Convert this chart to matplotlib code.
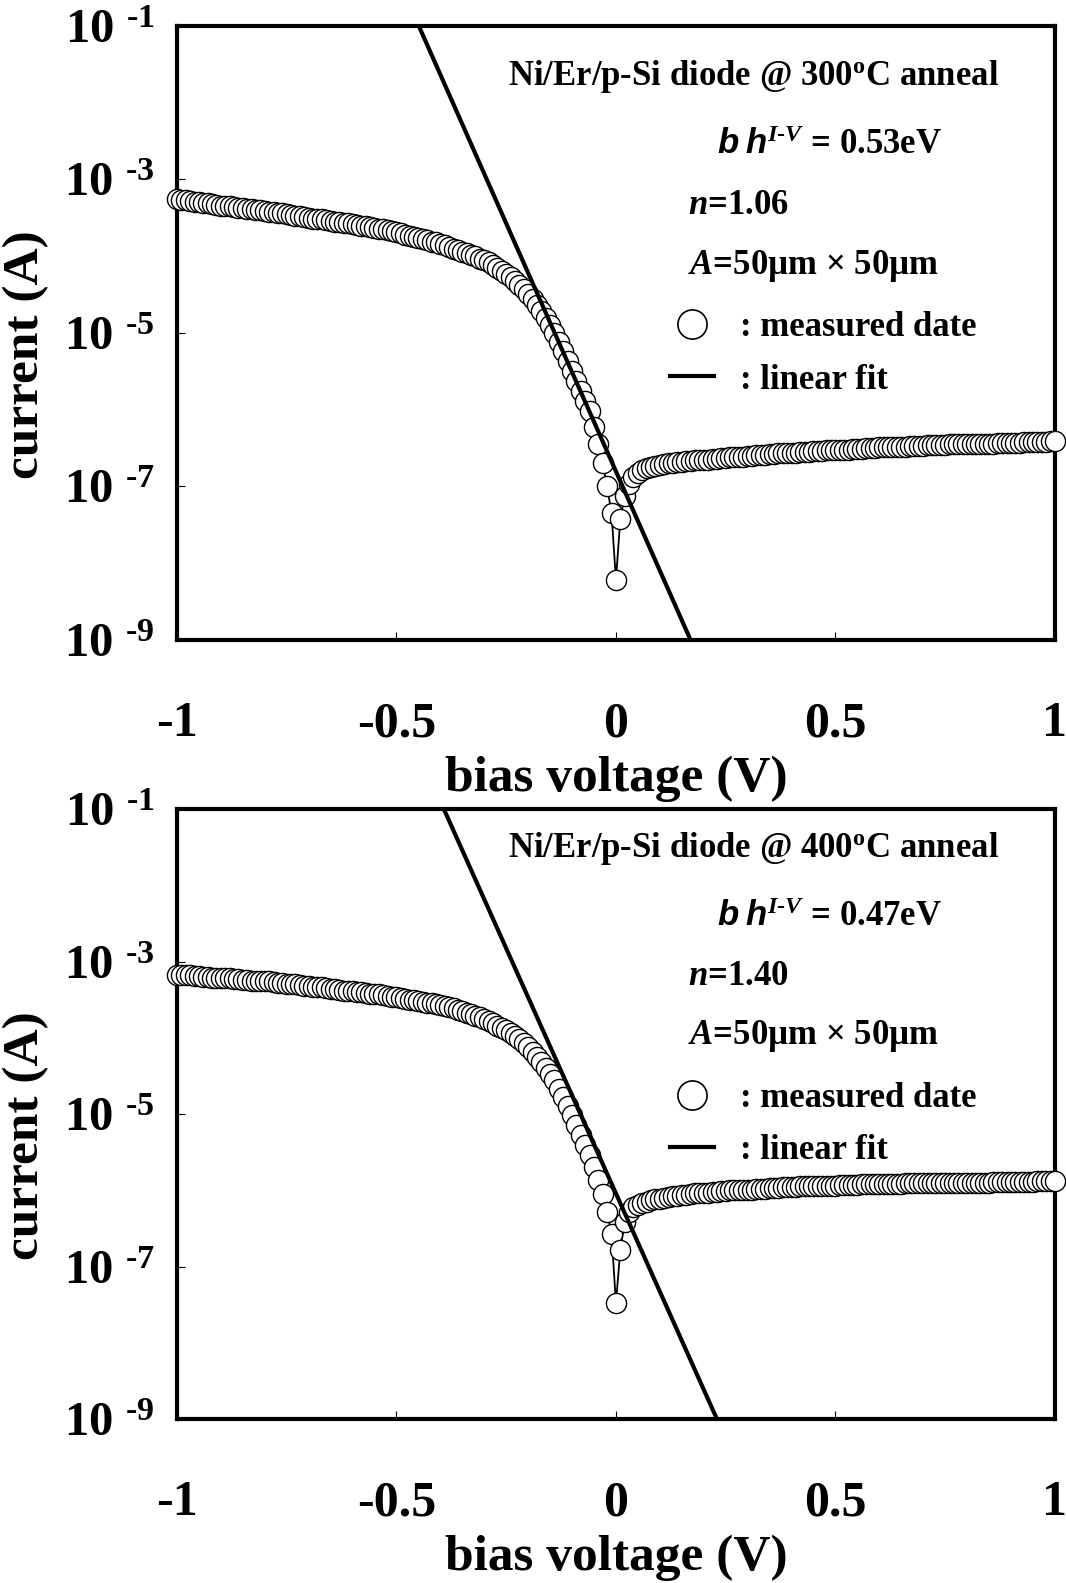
import numpy as np
import matplotlib.pyplot as plt
import matplotlib.ticker as ticker
from matplotlib.lines import Line2D

plt.rcParams['font.family'] = ['Liberation Serif', 'DejaVu Serif']
plt.rcParams['font.weight'] = 'bold'
plt.rcParams['axes.labelweight'] = 'bold'
plt.rcParams['mathtext.fontset'] = 'custom'
plt.rcParams['mathtext.rm'] = 'Liberation Serif:bold'
plt.rcParams['mathtext.it'] = 'Liberation Serif:italic:bold'
plt.rcParams['mathtext.bf'] = 'Liberation Serif:bold'
plt.rcParams['mathtext.sf'] = 'Liberation Sans:italic'

# bias sweep (V)
voltage = [
    -1.00, -0.99, -0.98, -0.97, -0.96, -0.95, -0.94, -0.93, -0.92, -0.91,
    -0.90, -0.89, -0.88, -0.87, -0.86, -0.85, -0.84, -0.83, -0.82, -0.81,
    -0.80, -0.79, -0.78, -0.77, -0.76, -0.75, -0.74, -0.73, -0.72, -0.71,
    -0.70, -0.69, -0.68, -0.67, -0.66, -0.65, -0.64, -0.63, -0.62, -0.61,
    -0.60, -0.59, -0.58, -0.57, -0.56, -0.55, -0.54, -0.53, -0.52, -0.51,
    -0.50, -0.49, -0.48, -0.47, -0.46, -0.45, -0.44, -0.43, -0.42, -0.41,
    -0.40, -0.39, -0.38, -0.37, -0.36, -0.35, -0.34, -0.33, -0.32, -0.31,
    -0.30, -0.29, -0.28, -0.27, -0.26, -0.25, -0.24, -0.23, -0.22, -0.21,
    -0.20, -0.19, -0.18, -0.17, -0.16, -0.15, -0.14, -0.13, -0.12, -0.11,
    -0.10, -0.09, -0.08, -0.07, -0.06, -0.05, -0.04, -0.03, -0.02, -0.01,
    0.00, 0.01, 0.02, 0.03, 0.04, 0.05, 0.06, 0.07, 0.08, 0.09,
    0.10, 0.11, 0.12, 0.13, 0.14, 0.15, 0.16, 0.17, 0.18, 0.19,
    0.20, 0.21, 0.22, 0.23, 0.24, 0.25, 0.26, 0.27, 0.28, 0.29,
    0.30, 0.31, 0.32, 0.33, 0.34, 0.35, 0.36, 0.37, 0.38, 0.39,
    0.40, 0.41, 0.42, 0.43, 0.44, 0.45, 0.46, 0.47, 0.48, 0.49,
    0.50, 0.51, 0.52, 0.53, 0.54, 0.55, 0.56, 0.57, 0.58, 0.59,
    0.60, 0.61, 0.62, 0.63, 0.64, 0.65, 0.66, 0.67, 0.68, 0.69,
    0.70, 0.71, 0.72, 0.73, 0.74, 0.75, 0.76, 0.77, 0.78, 0.79,
    0.80, 0.81, 0.82, 0.83, 0.84, 0.85, 0.86, 0.87, 0.88, 0.89,
    0.90, 0.91, 0.92, 0.93, 0.94, 0.95, 0.96, 0.97, 0.98, 0.99,
    1.00]

# log10 of measured current (A)
log_i_300 = [
    -3.26, -3.27, -3.27, -3.28, -3.29, -3.30, -3.31, -3.31, -3.32, -3.33,
    -3.34, -3.34, -3.35, -3.36, -3.37, -3.37, -3.38, -3.39, -3.40, -3.40,
    -3.41, -3.42, -3.43, -3.44, -3.44, -3.45, -3.46, -3.47, -3.48, -3.49,
    -3.50, -3.51, -3.51, -3.52, -3.53, -3.54, -3.55, -3.56, -3.57, -3.57,
    -3.58, -3.59, -3.60, -3.61, -3.62, -3.63, -3.64, -3.65, -3.66, -3.67,
    -3.69, -3.70, -3.72, -3.73, -3.75, -3.76, -3.77, -3.79, -3.81, -3.82,
    -3.84, -3.86, -3.88, -3.90, -3.92, -3.94, -3.96, -3.98, -4.00, -4.03,
    -4.05, -4.08, -4.12, -4.15, -4.19, -4.23, -4.27, -4.32, -4.37, -4.43,
    -4.49, -4.56, -4.64, -4.72, -4.81, -4.90, -5.00, -5.12, -5.24, -5.37,
    -5.50, -5.63, -5.76, -5.89, -6.02, -6.22, -6.45, -6.70, -7.00, -7.35,
    -8.22, -7.42, -7.12, -6.97, -6.88, -6.83, -6.79, -6.76, -6.74, -6.73,
    -6.72, -6.71, -6.70, -6.69, -6.68, -6.68, -6.67, -6.67, -6.66, -6.66,
    -6.65, -6.65, -6.64, -6.64, -6.63, -6.63, -6.62, -6.62, -6.61, -6.61,
    -6.60, -6.60, -6.59, -6.59, -6.59, -6.58, -6.58, -6.57, -6.57, -6.57,
    -6.56, -6.56, -6.55, -6.55, -6.55, -6.54, -6.54, -6.54, -6.53, -6.53,
    -6.53, -6.52, -6.52, -6.52, -6.51, -6.51, -6.51, -6.50, -6.50, -6.50,
    -6.49, -6.49, -6.49, -6.49, -6.48, -6.48, -6.48, -6.47, -6.47, -6.47,
    -6.47, -6.46, -6.46, -6.46, -6.46, -6.46, -6.45, -6.45, -6.45, -6.45,
    -6.45, -6.44, -6.44, -6.44, -6.44, -6.44, -6.44, -6.43, -6.43, -6.43,
    -6.43, -6.43, -6.43, -6.42, -6.42, -6.42, -6.42, -6.42, -6.42, -6.41,
    -6.41]

log_i_400 = [
    -3.17, -3.18, -3.18, -3.18, -3.19, -3.19, -3.20, -3.20, -3.21, -3.21,
    -3.22, -3.22, -3.22, -3.23, -3.23, -3.24, -3.24, -3.25, -3.25, -3.26,
    -3.26, -3.26, -3.27, -3.28, -3.28, -3.29, -3.30, -3.30, -3.31, -3.32,
    -3.32, -3.33, -3.34, -3.34, -3.35, -3.36, -3.36, -3.37, -3.38, -3.38,
    -3.39, -3.40, -3.40, -3.41, -3.42, -3.43, -3.43, -3.44, -3.45, -3.46,
    -3.47, -3.48, -3.49, -3.50, -3.51, -3.52, -3.53, -3.54, -3.55, -3.56,
    -3.57, -3.58, -3.59, -3.61, -3.63, -3.65, -3.67, -3.69, -3.71, -3.73,
    -3.76, -3.78, -3.81, -3.84, -3.87, -3.90, -3.94, -3.98, -4.02, -4.07,
    -4.12, -4.18, -4.25, -4.32, -4.39, -4.47, -4.56, -4.67, -4.78, -4.89,
    -5.01, -5.14, -5.27, -5.40, -5.54, -5.69, -5.86, -6.05, -6.28, -6.58,
    -7.48, -6.78, -6.42, -6.28, -6.22, -6.19, -6.17, -6.15, -6.13, -6.12,
    -6.11, -6.10, -6.09, -6.08, -6.07, -6.06, -6.06, -6.05, -6.04, -6.04,
    -6.03, -6.03, -6.02, -6.02, -6.01, -6.01, -6.00, -6.00, -6.00, -5.99,
    -5.99, -5.99, -5.98, -5.98, -5.98, -5.97, -5.97, -5.97, -5.96, -5.96,
    -5.96, -5.96, -5.95, -5.95, -5.95, -5.95, -5.94, -5.94, -5.94, -5.94,
    -5.94, -5.93, -5.93, -5.93, -5.93, -5.93, -5.92, -5.92, -5.92, -5.92,
    -5.92, -5.92, -5.92, -5.92, -5.92, -5.92, -5.91, -5.91, -5.91, -5.91,
    -5.91, -5.91, -5.91, -5.91, -5.91, -5.91, -5.90, -5.90, -5.90, -5.90,
    -5.90, -5.90, -5.90, -5.90, -5.90, -5.90, -5.89, -5.89, -5.89, -5.89,
    -5.89, -5.89, -5.89, -5.89, -5.89, -5.89, -5.88, -5.88, -5.88, -5.88,
    -5.88]

# linear fit end points (V, A)
fit_v_300 = [-0.449, 0.170]
fit_i_300 = [1e-1, 1e-9]
fit_v_400 = [-0.392, 0.230]
fit_i_400 = [1e-1, 1e-9]

anneal_temps = ['300', '400']
barriers = ['0.53', '0.47']
ideality = ['1.06', '1.40']

fig = plt.figure(figsize=(10.66, 15.83), dpi=100)
ax_top = fig.add_axes([0.166, 0.5957, 0.8236, 0.3879])
ax_bot = fig.add_axes([0.166, 0.1036, 0.8236, 0.3853])

panels = [
    (ax_top, log_i_300, fit_v_300, fit_i_300, 0),
    (ax_bot, log_i_400, fit_v_400, fit_i_400, 1),
]

# text rows (axes fraction) for each panel: title, barrier, n, area, legend top
rows = [(0.918, 0.806, 0.708, 0.609, 0.535),
        (0.935, 0.823, 0.726, 0.628, 0.553)]

for ax, log_i, fit_v, fit_i, k in panels:
    current = 10.0 ** np.array(log_i)
    ax.plot(voltage, current, '-', color='black', lw=1.3, marker='o', ms=14.5,
            mfc='white', mec='black', mew=1.0, clip_on=False, zorder=3)
    ax.plot(fit_v, fit_i, color='black', lw=3, zorder=4)

    ax.set_yscale('log')
    ax.set_xlim(-1, 1)
    ax.set_ylim(1e-9, 1e-1)
    ax.yaxis.set_major_locator(ticker.FixedLocator([1e-9, 1e-7, 1e-5, 1e-3, 1e-1]))
    ax.yaxis.set_minor_locator(ticker.NullLocator())
    ax.yaxis.set_major_formatter(ticker.FuncFormatter(
        lambda v, p: '10 $^{\\text{%d}}$' % round(np.log10(v))))
    ax.xaxis.set_major_locator(ticker.MultipleLocator(0.5))
    ax.xaxis.set_major_formatter(ticker.FuncFormatter(lambda v, p: '%g' % v))

    for s in ax.spines.values():
        s.set_linewidth(3)
    ax.tick_params(direction='in', length=6, width=0.8, top=False, right=False)
    ax.tick_params(axis='x', labelsize=36, pad=44)
    ax.tick_params(axis='y', labelsize=35, pad=16)

    ax.set_xlabel('bias voltage (V)', fontsize=37, fontweight='bold', labelpad=6)
    ax.set_ylabel('current (A)', fontsize=37, fontweight='bold')
    ax.yaxis.set_label_coords(-0.145, 0.464)

    r = rows[k]
    ax.text(0.657, r[0], 'Ni/Er/p-Si diode @ %s$^{\\mathrm{o}}$C anneal' % anneal_temps[k],
            transform=ax.transAxes, ha='center', va='center', fontsize=25)
    ax.text(0.743, r[1], '$\\mathsf{b\\;h}^{\\mathit{I}\\text{-}\\mathit{V}}$ = %seV' % barriers[k],
            transform=ax.transAxes, ha='center', va='center', fontsize=25)
    ax.text(0.582, r[2], '$n$=%s' % ideality[k],
            transform=ax.transAxes, ha='left', va='center', fontsize=25)
    ax.text(0.582, r[3], '$A$=50\u00b5m \u00d7 50\u00b5m',
            transform=ax.transAxes, ha='left', va='center', fontsize=25)

    handles = [Line2D([], [], ls='none', marker='o', ms=21, mfc='white', mec='black', mew=1.2),
               Line2D([], [], color='black', lw=3)]
    ax.legend(handles, [': measured date', ': linear fit'], loc='upper left',
              bbox_to_anchor=(0.562, r[4]), frameon=False, fontsize=25,
              handlelength=1.25, handletextpad=0.75, labelspacing=0.55,
              borderaxespad=0, borderpad=0)

fig.savefig('out.png', dpi=100)
